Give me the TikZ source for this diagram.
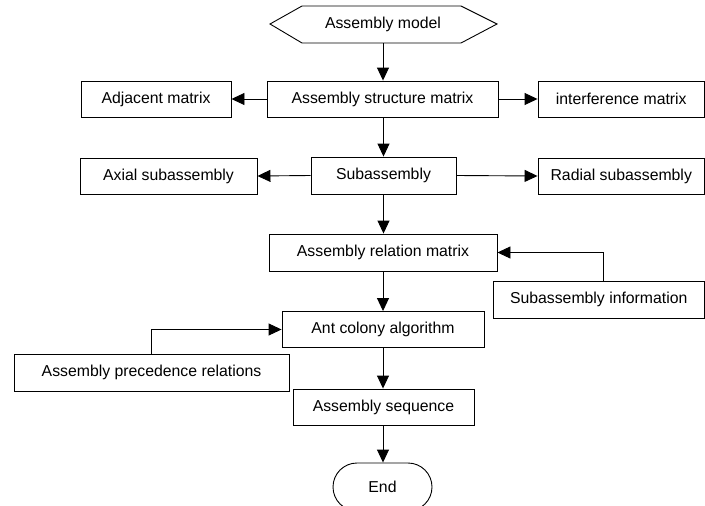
\documentclass[tikz,border=0pt]{standalone}
\usepackage{fontspec}
\setmainfont{Liberation Sans}
\usetikzlibrary{arrows.meta,shapes.misc}
\begin{document}
\begin{tikzpicture}[x=1pt,y=-1pt,
  font=\fontsize{15.8}{18}\selectfont,
  box/.style={draw=black,line width=0.9pt,rectangle,inner sep=0pt,anchor=center},
  conn/.style={line width=0.9pt,-{Triangle[length=13pt,width=12pt]}},
  plain/.style={line width=0.9pt}]
\useasboundingbox (0,0) rectangle (705,506);
\clip (0,0) rectangle (705,506);
% hexagon
\draw[plain] (270,24) -- (302,6) -- (461,6) -- (497,24) -- (461,43) -- (302,43) -- cycle;
\node[inner sep=0pt,minimum width=227pt,minimum height=37pt] (model) at (383,24.5) {Assembly model};
\node[box,minimum width=231pt,minimum height=36pt] (struct) at (382.5,99) {Assembly structure matrix};
\node[box,minimum width=150pt,minimum height=36pt] (adj) at (156,99) {Adjacent matrix};
\node[box,minimum width=166.5pt,minimum height=36pt] (interf) at (621.25,99) {interference matrix};
\node[box,minimum width=145pt,minimum height=37pt] (sub) at (383.5,175.5) {Subassembly};
\node[box,minimum width=177pt,minimum height=36pt] (axial) at (168.5,176) {Axial subassembly};
\node[box,minimum width=166.5pt,minimum height=36pt] (radial) at (621.25,176) {Radial subassembly};
\node[box,minimum width=228pt,minimum height=37pt] (rel) at (383,252.5) {Assembly relation matrix};
\node[box,minimum width=211.5pt,minimum height=37pt] (subinfo) at (598.75,299.5) {Subassembly information};
\node[box,minimum width=202pt,minimum height=36pt] (ant) at (383,329.5) {Ant colony algorithm};
\node[box,minimum width=275pt,minimum height=37pt] (prec) at (151.5,372.5) {Assembly precedence relations};
\node[box,minimum width=181pt,minimum height=36pt] (seq) at (383.5,407) {Assembly sequence};
\node[draw=black,line width=0.9pt,rounded rectangle,inner sep=0pt,minimum width=99pt,minimum height=48pt] (end) at (382.5,487) {End};
% connectors
\draw[conn] (model.south) -- (model.south |- struct.north);
\draw[conn] (struct.west) -- (adj.east);
\draw[conn] (struct.east) -- (interf.west);
\draw[conn] (struct.south -| sub.north) -- (sub.north);
\draw[conn] (sub.west) -- (axial.east);
\draw[conn] (sub.east) -- (radial.west);
\draw[conn] (sub.south) -- (sub.south |- rel.north);
\draw[conn] ([xshift=5pt]subinfo.north) |- (rel.east);
\draw[conn] (rel.south) -- (ant.north);
\draw[conn] (prec.north) |- (ant.west);
\draw[conn] (ant.south) -- (ant.south |- seq.north);
\draw[conn] (ant.south |- seq.south) -- (ant.south |- end.north);
\end{tikzpicture}
\end{document}
